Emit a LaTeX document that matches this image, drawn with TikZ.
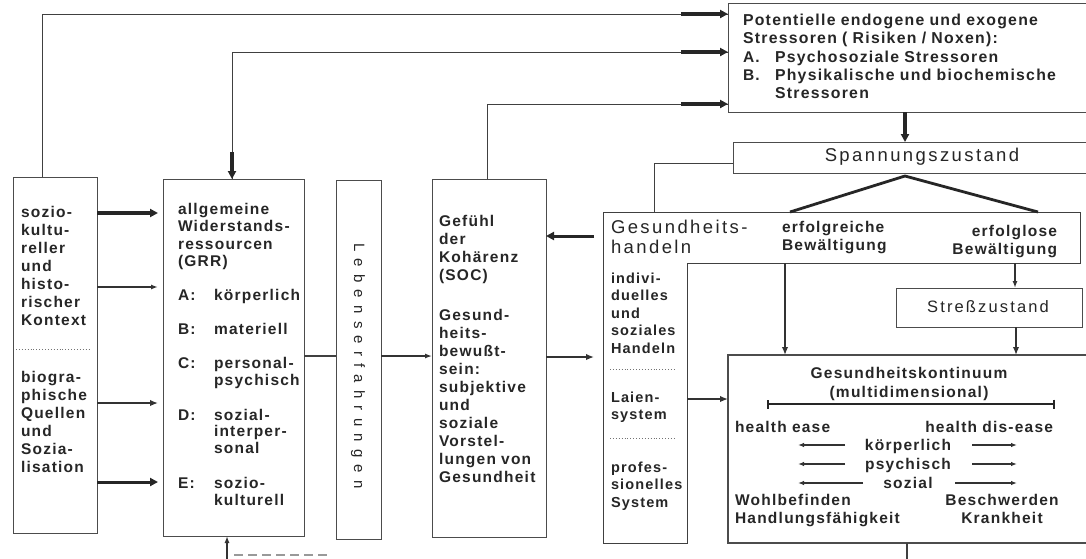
\documentclass[tikz,border=0pt]{standalone}
\usepackage{fontspec}
\setmainfont{Liberation Sans}[LetterSpace=8]
\newfontfamily\widefont{Liberation Sans}[LetterSpace=13]
\newfontfamily\lebfont{Liberation Sans}[LetterSpace=48]
\usetikzlibrary{arrows.meta}
\newcommand\txtf{\fontsize{15.5}{18}\selectfont\bfseries}
\newcommand\smallf{\fontsize{14.5}{17.5}\selectfont\bfseries}
\newcommand\bigf{\widefont\fontsize{18.5}{20}\selectfont}
\begin{document}
\begin{tikzpicture}[x=1pt,y=-1pt,
 every node/.style={inner sep=0pt,outer sep=0pt},
 box/.style={draw=black!70,line width=0.9pt,anchor=north west},
 hid/.style={anchor=north west},
 txt/.style={anchor=base west,align=left,text width=#1,font=\txtf,text=black!85},
 txt/.default=150pt,
 txtr/.style={anchor=base east,align=right,text width=#1,font=\txtf,text=black!85},
 txtc/.style={anchor=base,align=center,text width=#1,font=\txtf,text=black!85},
 ln/.style={draw=black!75,line width=0.9pt},
 sep/.style={draw=black!55,line width=0.9pt,dotted},
 thinar/.style={draw=black!80,line width=1.3pt,-{Latex[length=7pt,width=5pt]}},
 midar/.style={draw=black!80,line width=2.2pt,-{Latex[length=8pt,width=6.5pt]}},
 fatar/.style={draw=black!85,line width=3.4pt,-{Triangle[length=8pt,width=8pt]}},
 sarr/.style={draw=black!80,line width=1.4pt,-{Latex[length=6pt,width=4.5pt]}}
]
\fill[white] (0,0) rectangle (1086,558);
\useasboundingbox (0,0) rectangle (1086,558);
\clip (0,0) rectangle (1086,558);

% ---------- boxes
\node[box,minimum width=84,minimum height=356] (ctx) at (13,177) {};
\node[box,minimum width=141,minimum height=357] (grr) at (163,179) {};
\node[box,minimum width=45,minimum height=359] (leb) at (336,180) {};
\node[box,minimum width=114,minimum height=358] (soc) at (432,179) {};
\node[hid,minimum width=477,minimum height=51] (hband) at (603,212) {};
\node[hid,minimum width=84,minimum height=331] (hcol) at (603,212) {};
\draw[ln] (hband.north west) -- (hband.north east) -- (hband.south east) -- (hcol.east |- hband.south) -- (hcol.south east) -- (hcol.south west) -- cycle;
\node[box,minimum width=370,minimum height=109] (str) at (728,3) {};
\node[box,minimum width=365,minimum height=31] (span) at (733,142) {};
\node[box,minimum width=186,minimum height=39] (stz) at (896,288) {};
\node[box,line width=1.5pt,minimum width=370,minimum height=188] (kont) at (728,355) {};

% ---------- texts
\node[txt=75pt] (ctxa) at (21,217) {sozio-\\kultu-\\reller\\und\\histo-\\rischer\\Kontext};
\draw[sep] (16,349) -- (89,349);
\node[txt=75pt] (ctxb) at (21,382) {biogra-\\phische\\Quellen\\und\\Sozia-\\lisation};

\node[txt=125pt,font=\fontsize{15.5}{17.5}\selectfont\bfseries] (grrt) at (178,214) {allgemeine\\Widerstands-\\ressourcen\\(GRR)};
\node[txt=30pt] (la) at (178,300) {A:};
\node[txt=90pt] (wa) at (214,300) {körperlich};
\node[txt=30pt] (lb) at (178,334) {B:};
\node[txt=90pt] (wb) at (214,334) {materiell};
\node[txt=30pt] (lc) at (178,368) {C:};
\node[txt=90pt,font=\fontsize{15.5}{17.5}\selectfont\bfseries] (wc) at (214,368) {personal-\\psychisch};
\node[txt=30pt] (ld) at (178,420) {D:};
\node[txt=90pt,font=\fontsize{15.5}{16.5}\selectfont\bfseries] (wd) at (214,420) {sozial-\\interper-\\sonal};
\node[txt=30pt] (le) at (178,488) {E:};
\node[txt=90pt,font=\fontsize{15.5}{17}\selectfont\bfseries] (we) at (214,488) {sozio-\\kulturell};

\node[rotate=-90,font=\lebfont\fontsize{15}{15}\selectfont,text=black!85] (lebt) at (358,366) {Lebenserfahrungen};

\node[txt=110pt] (soct) at (439,226) {Gefühl\\der\\Kohärenz\\(SOC)\\[22pt]Gesund-\\heits-\\bewußt-\\sein:\\subjektive\\und\\soziale\\Vorstel-\\lungen von\\Gesundheit};

\node[txt=170pt,font=\bigf,text=black!85] (ght) at (611,233) {Gesundheits-\\handeln};
\node[txt=80pt,font=\smallf] (ghi) at (611,283) {indivi-\\duelles\\und\\soziales\\Handeln};
\draw[sep] (610,369) -- (675,369);
\node[txt=80pt,font=\smallf] (ghl) at (611,402) {Laien-\\system};
\draw[sep] (610,438) -- (675,438);
\node[txt=80pt,font=\smallf] (ghp) at (611,472) {profes-\\sionelles\\System};

\node[txt=130pt] (erg) at (782,232) {erfolgreiche\\Bewältigung};
\node[txtr=130pt] (erl) at (1057,236) {erfolglose\\Bewältigung};

\node[txt=340pt,font=\fontsize{15.8}{18.3}\selectfont\bfseries] (strt) at (743,25) {Potentielle endogene und exogene\\Stressoren ( Risiken / Noxen):};
\node[txt=30pt] (sa) at (743,62) {A.};
\node[txt=300pt,font=\fontsize{15.8}{18}\selectfont\bfseries] (sat) at (775,62) {Psychosoziale Stressoren};
\node[txt=30pt] (sb) at (743,80) {B.};
\node[txt=300pt,font=\fontsize{15.8}{18}\selectfont\bfseries] (sbt) at (775,80) {Physikalische und biochemische\\Stressoren};

\node[font=\bigf,text=black!85] (spant) at (922,157) {Spannungszustand};
\node[font=\widefont\fontsize{16.5}{16.5}\selectfont,text=black!85] (stzt) at (988,307) {Streßzustand};

\node[txtc=300pt,font=\fontsize{15.5}{19}\selectfont\bfseries] (kt) at (909,378) {Gesundheitskontinuum\\(multidimensional)};
\node[txt=120pt] (he) at (735,432) {health ease};
\node[txtr=150pt] (hd) at (1053,432) {health dis-ease};
\node[txtc=100pt] (kp) at (908,450) {körperlich};
\node[txtc=100pt] (ps) at (908,469) {psychisch};
\node[txtc=100pt] (so) at (908,488) {sozial};
\node[txt=180pt] (wb2) at (735,505) {Wohlbefinden\\Handlungsfähigkeit};
\node[txtc=130pt] (bk) at (1002,505) {Beschwerden\\Krankheit};

% ---------- connectors: context -> GRR
\draw[fatar,shorten >=5pt] (ctx.east |- 0,213) -- (grr.west |- 0,213);
\draw[thinar,line width=1.6pt,shorten >=5pt] (ctx.east |- 0,287) -- (grr.west |- 0,287);
\draw[midar,shorten >=5pt] (ctx.east |- 0,403) -- (grr.west |- 0,403);
\draw[fatar,line width=3pt,shorten >=5pt] (ctx.east |- 0,482) -- (grr.west |- 0,482);

\draw[ln,line width=1.2pt] (grr.east |- 0,356) -- (leb.west |- 0,356);
\draw[thinar] (leb.east |- 0,356) -- (soc.west |- 0,356);
\draw[midar,line width=2.6pt,shorten >=9pt] (soc.east |- 0,357) -- (hcol.west |- 0,357);
\draw[fatar,line width=3pt,shorten <=9pt] (hcol.west |- 0,236) -- (soc.east |- 0,236);
\draw[midar,line width=2.6pt] (hcol.east |- 0,399) -- (kont.west |- 0,399);

% ---------- top loops
\coordinate (t1) at (str.west |- 0,14);
\coordinate (t2) at (str.west |- 0,52);
\coordinate (t3) at (str.west |- 0,104);
\coordinate (g2) at (grr.north -| 232,0);
\draw[ln] (ctx.north -| 42,0) |- (t1);
\draw[ln] (g2) |- (t2);
\draw[ln] (soc.north -| 487,0) |- (t3);
\draw[fatar] ([xshift=-47pt]t1) -- (t1);
\draw[fatar] ([xshift=-47pt]t2) -- (t2);
\draw[fatar] ([xshift=-47pt]t3) -- (t3);
\draw[fatar] ([yshift=27pt]g2) -- (g2);

% ---------- right part
\draw[fatar,line width=3.8pt] (str.south -| 905,0) -- (span.north -| 905,0);
\draw[ln] (span.west |- 0,163) -| (hband.north -| 654,0);
\draw[draw=black!85,line width=2.8pt,line join=round] (hband.north -| 790,0) -- ([yshift=-3pt]span.south -| 905,0) -- (hband.north -| 1038,0);
\draw[midar] (hband.south -| 785,0) -- (kont.north -| 785,0);
\draw[thinar,line width=1.6pt] (hband.south -| 1015,0) -- (stz.north -| 1015,0);
\draw[midar,line width=2.6pt] (stz.south -| 1016,0) -- (kont.north -| 1016,0);

% ---------- continuum internals
\draw[draw=black!85,line width=1.8pt,{Bar[width=9pt]}-{Bar[width=9pt]}] (767,404) -- (1055,404);
\coordinate (kl1) at (845,445); \coordinate (kr1) at (972,445);
\coordinate (kl2) at (845,464); \coordinate (kr2) at (972,464);
\coordinate (kl3) at (863,483); \coordinate (kr3) at (955,483);
\draw[sarr] (kl1) -- ++(-47,0);
\draw[sarr] (kr1) -- ++(45,0);
\draw[sarr] (kl2) -- ++(-47,0);
\draw[sarr] (kr2) -- ++(45,0);
\draw[sarr] (kl3) -- ++(-65,0);
\draw[sarr] (kr3) -- ++(62,0);

% ---------- feedback at bottom
\coordinate (fbr) at (907,562);
\coordinate (fbl) at (227,562);
\draw[ln,line width=1.2pt] (kont.south -| fbr) -- (fbr);
\draw[thinar] (fbl) -- (grr.south -| fbl);
\draw[draw=black!40,line width=2pt,dash pattern=on 9pt off 5pt] (234,555) -- (330,555);
\end{tikzpicture}
\end{document}
